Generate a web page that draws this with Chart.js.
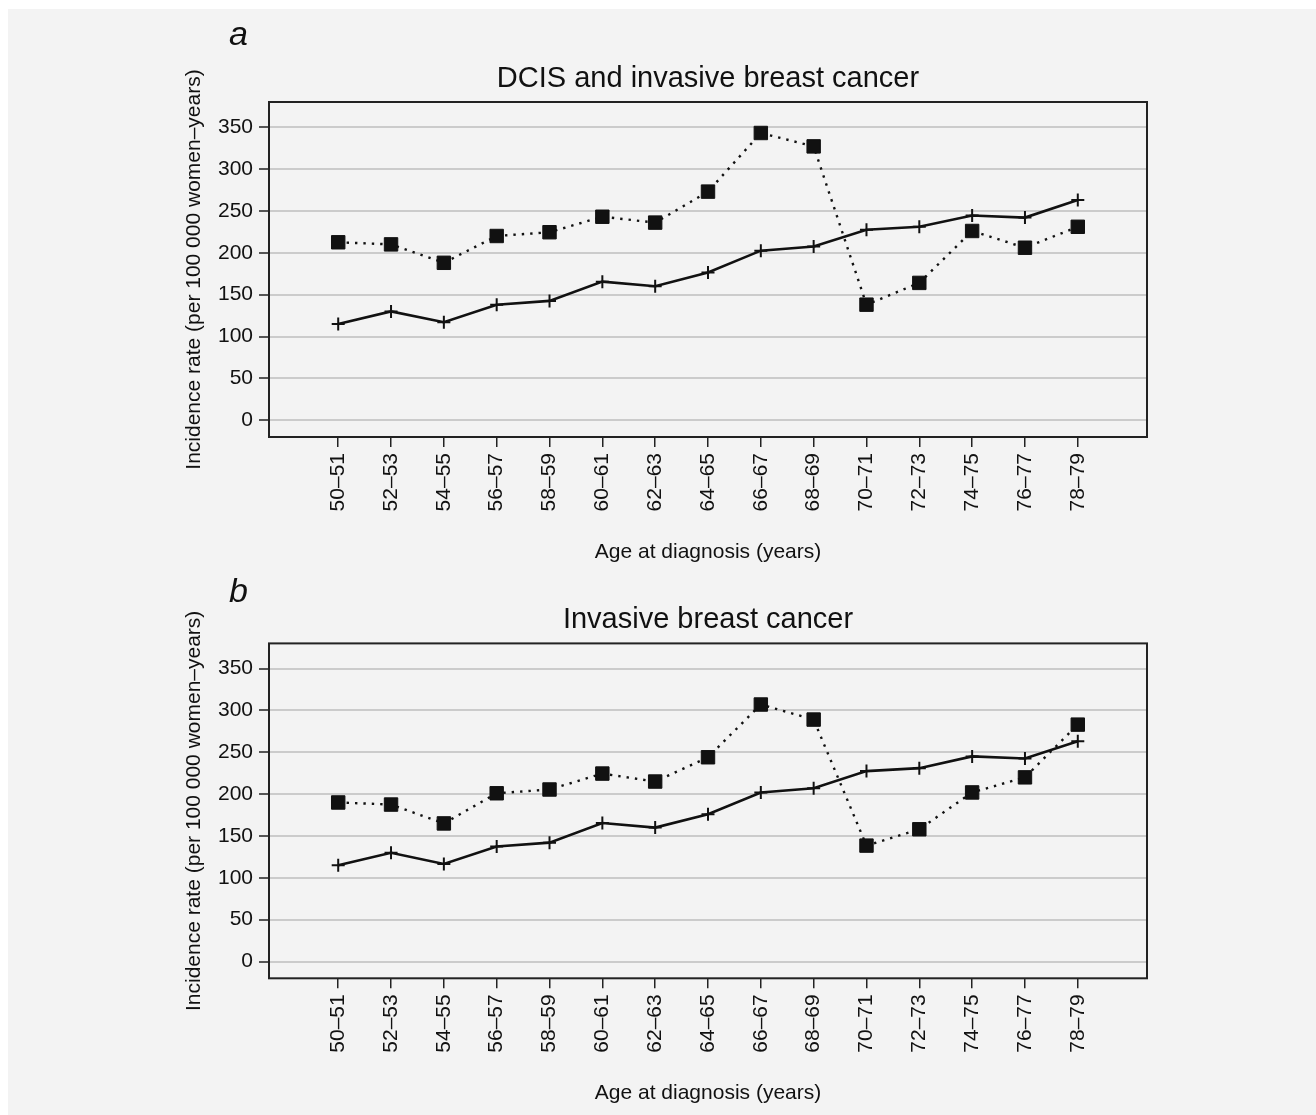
<!DOCTYPE html>
<html>
<head>
<meta charset="utf-8">
<script src="https://cdn.jsdelivr.net/npm/chart.js@4.4.0/dist/chart.umd.min.js"></script>
<style>
  html, body { margin: 0; padding: 0; background: #ffffff; }
  #page { position: relative; width: 1316px; height: 1115px; overflow: hidden; }
  #paper { position: absolute; left: 8px; top: 9px; right: 0; bottom: 0; background: #f3f3f3; }
  .panel { position: absolute; left: 0; width: 1316px; }
  #panelA { top: 0; height: 565px; }
  #panelB { top: 565px; height: 550px; }
  .letter {
    position: absolute; left: 229px; font-family: "Liberation Sans", Arial, sans-serif;
    font-style: italic; font-size: 34px; line-height: 34px; color: #111;
  }
</style>
</head>
<body>
<div id="page">
  <div id="paper"></div>
  <div class="panel" id="panelA"><canvas id="chartA" width="1316" height="565"></canvas></div>
  <div class="panel" id="panelB"><canvas id="chartB" width="1316" height="550"></canvas></div>
  <div class="letter" style="top:16px">a</div>
  <div class="letter" style="top:573px">b</div>
</div>
<script>
const ageGroups = ["50–51", "52–53", "54–55", "56–57", "58–59", "60–61", "62–63", "64–65",
  "66–67", "68–69", "70–71", "72–73", "74–75", "76–77", "78–79"];
const rateTicks = [0, 50, 100, 150, 200, 250, 300, 350];

// panel a
const solidA = [115, 130, 117, 138, 142.5, 165.5, 160, 176.5, 202.5, 207.5, 227.5, 231, 244.5, 242, 263];
const dottedA = [212.5, 210, 188, 220, 224.5, 243, 236, 273, 343, 327, 138, 164, 226, 206, 231];

// panel b
const solidB = [115, 130, 116.5, 137.5, 142, 165.5, 160, 176, 202, 207, 227.5, 231, 245, 242.5, 263];
const dottedB = [190, 187.5, 165, 201, 205.5, 224.5, 215, 244, 307, 289, 138.5, 158, 202, 220, 283];

const incidenceApp = (function () {
  const font = "'Liberation Sans', Arial, sans-serif";
  const ink = "#111111";

  const framePlugin = {
    id: "frame",
    afterDatasetsDraw(chart) {
      const { ctx, chartArea: a } = chart;
      ctx.save();
      ctx.strokeStyle = "#222222";
      ctx.lineWidth = 2;
      ctx.strokeRect(a.left, a.top, a.right - a.left, a.bottom - a.top);
      ctx.restore();
    },
  };

  function points(values) {
    return values.map((v, i) => ({ x: i, y: v }));
  }

  function initChart(id, title, solid, dotted, padTop, padBottom) {
    const ctx = document.getElementById(id);

    new Chart(ctx, {
      type: "line",
      data: {
        datasets: [
          {
            label: "Invasive",
            data: points(solid),
            borderColor: ink,
            borderWidth: 2.6,
            pointStyle: "cross",
            pointRadius: 6.5,
            pointBorderWidth: 2,
            pointBorderColor: ink,
            tension: 0,
          },
          {
            label: "Observed",
            data: points(dotted),
            borderColor: ink,
            borderWidth: 2.4,
            borderDash: [2.4, 6],
            pointStyle: "rect",
            pointRadius: 9.5,
            pointBorderWidth: 1,
            pointBorderColor: ink,
            pointBackgroundColor: ink,
            tension: 0,
          },
        ],
      },
      options: {
        responsive: false,
        animation: false,
        events: [],
        layout: {
          padding: { left: 182, right: 169, top: padTop, bottom: padBottom },
        },
        plugins: {
          legend: { display: false },
          tooltip: { enabled: false },
          title: {
            display: true,
            text: title,
            fullSize: false,
            color: ink,
            font: { family: font, size: 29, weight: "normal" },
            padding: { top: 0, bottom: 5.6 },
          },
        },
        scales: {
          x: {
            type: "linear",
            min: -1.31,
            max: 15.31,
            afterBuildTicks: (axis) => {
              axis.ticks = ageGroups.map((g, i) => ({ value: i }));
            },
            afterFit: (axis) => {
              axis.height = 128;
            },
            border: { display: false },
            grid: {
              drawOnChartArea: false,
              color: "#222222",
              lineWidth: 1.5,
              tickLength: 10,
            },
            ticks: {
              autoSkip: false,
              minRotation: 90,
              maxRotation: 90,
              padding: 6,
              color: ink,
              font: { family: font, size: 21 },
              callback: (v) => ageGroups[v],
            },
            title: {
              display: true,
              text: "Age at diagnosis (years)",
              color: ink,
              font: { family: font, size: 21 },
              padding: { top: 0, bottom: 0 },
            },
          },
          y: {
            min: -20,
            max: 380,
            afterBuildTicks: (axis) => {
              axis.ticks = rateTicks.map((t) => ({ value: t }));
            },
            afterFit: (axis) => {
              axis.width = 87;
            },
            border: { display: false },
            grid: {
              color: "#cbcbcb",
              lineWidth: 2,
              tickColor: "#222222",
              tickWidth: 1.5,
              tickLength: 10,
            },
            ticks: {
              padding: 6,
              color: ink,
              font: { family: font, size: 21 },
            },
            title: {
              display: true,
              text: "Incidence rate (per 100 000 women–years)",
              color: ink,
              font: { family: font, size: 21 },
              padding: { top: 0, bottom: 0 },
            },
          },
        },
      },
      plugins: [framePlugin],
    });
  }

  return {
    init: function () {
      initChart("chartA", "DCIS and invasive breast cancer", solidA, dottedA, 61.6, 0);
      initChart("chartB", "Invasive breast cancer", solidB, dottedB, 38, 8.7);
    },
  };
})();

incidenceApp.init();
</script>
</body>
</html>
